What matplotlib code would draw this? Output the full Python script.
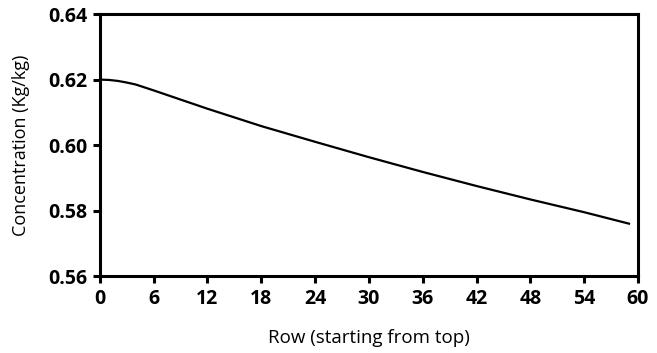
import matplotlib
matplotlib.use("Agg")
import matplotlib.pyplot as plt

# row index and concentration
rows = [0, 1, 2, 3, 4, 5, 6, 9, 12, 18, 24, 30, 36, 42, 48, 54, 59]
conc = [0.6200, 0.6199, 0.6196, 0.6191, 0.6185, 0.6176, 0.6167, 0.6139, 0.6111,
        0.6058, 0.6010, 0.5963, 0.5918, 0.5875, 0.5834, 0.5795, 0.5760]
xticks = list(range(0, 61, 6))
yticks = [0.56, 0.58, 0.60, 0.62, 0.64]

plt.rcParams['font.family'] = ['Open Sans', 'DejaVu Sans']

fig = plt.figure(figsize=(6.57, 3.53), dpi=100)
ax = fig.add_axes([0.152, 0.218, 0.819, 0.742])
ax.plot(rows, conc, color='black', linewidth=1.6)

ax.set_xlim(0, 60)
ax.set_ylim(0.56, 0.64)
ax.set_xticks(xticks)
ax.set_yticks(yticks)
ax.set_yticklabels([f'{v:.2f}' for v in yticks])
for lab in ax.get_xticklabels() + ax.get_yticklabels():
    lab.set_fontweight('bold')
    lab.set_fontsize(14)
ax.tick_params(direction='out', length=5, width=2.2, top=False, right=False, pad=4)

for s in ax.spines.values():
    s.set_linewidth(2.2)

ax.set_xlabel('Row (starting from top)', fontsize=13.5, labelpad=15)
ax.set_ylabel('Concentration (Kg/kg)', fontsize=13, labelpad=13)

fig.savefig('out.png', dpi=100)
